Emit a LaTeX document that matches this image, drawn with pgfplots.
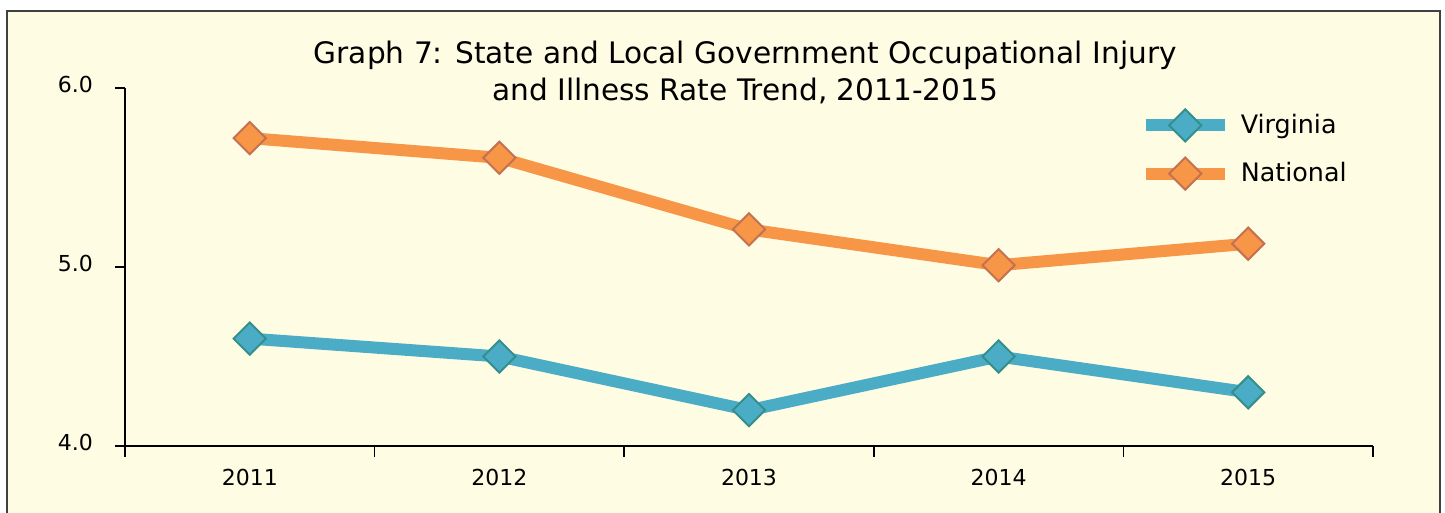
\documentclass[border=0pt]{standalone}
\usepackage{fontspec}
\setmainfont{DejaVu Sans}
\usepackage{pgfplots}
\pgfplotsset{compat=1.18}

\definecolor{bgyellow}{RGB}{254,252,227}
\definecolor{frame}{RGB}{64,64,64}
\definecolor{vaBlue}{RGB}{75,172,198}
\definecolor{vaEdge}{RGB}{52,143,140}
\definecolor{natOrange}{RGB}{247,150,70}
\definecolor{natEdge}{RGB}{196,112,82}

\begin{document}
\begin{tikzpicture}
% page is 1445x513 px at 0.5pt per px
\useasboundingbox (0,0) rectangle (722.5pt,256.5pt);
\clip (0,0) rectangle (722.5pt,256.5pt);
\draw[frame, line width=0.9pt, fill=bgyellow] (3.5pt,-10pt) rectangle (720pt,251pt);

\begin{axis}[
    at={(62.5pt,33.5pt)}, anchor=south west,
    scale only axis,
    width=624pt, height=179pt,
    xmin=-0.5, xmax=4.5,
    ymin=4, ymax=6,
    axis lines=left,
    axis line style={black, line width=0.8pt, -},
    xtick={0,1,2,3,4},
    xticklabels={2011,2012,2013,2014,2015},
    major x tick style={draw=none},
    minor xtick={-0.5,0.5,1.5,2.5,3.5,4.5},
    minor tick length=5.5pt,
    ytick={4,5,6},
    yticklabels={4.0,5.0,6.0},
    major tick length=5pt,
    tick align=outside,
    tick style={black, line width=0.8pt},
    every minor tick/.append style={black, line width=0.8pt},
    /pgf/number format/assume math mode=true,
    ticklabel style={font=\fontsize{11}{12}\selectfont},
    xticklabel style={yshift=-3pt},
    yticklabel style={xshift=-7.5pt, yshift=2pt},
    title={Graph 7: State and Local Government Occupational Injury\\and Illness Rate Trend, 2011-2015},
    title style={at={(0.497,1.01)}, anchor=center, align=center,
                 font=\fontsize{14.8}{18.7}\selectfont},
    legend style={at={(0.808,0.953)}, anchor=north west, draw=none, fill=none,
                  font=\fontsize{12.7}{15}\selectfont, row sep=8pt,
                  nodes={inner xsep=5pt}},
    legend cell align=left,
    legend image code/.code={
        \draw[mark repeat=2, mark phase=2]
            plot coordinates {(0pt,0pt) (19.75pt,0pt) (39.5pt,0pt)};
    },
    clip=false,
]
\addplot[vaBlue, line width=6pt, mark=square*,
    mark options={rotate=45, mark size=5.7pt, fill=vaBlue, draw=vaEdge, line width=1pt}]
    coordinates {(0,4.6) (1,4.5) (2,4.2) (3,4.5) (4,4.3)};
\addlegendentry{Virginia}
\addplot[natOrange, line width=6pt, mark=square*,
    mark options={rotate=45, mark size=5.7pt, fill=natOrange, draw=natEdge, line width=1pt}]
    coordinates {(0,5.72) (1,5.61) (2,5.21) (3,5.01) (4,5.13)};
\addlegendentry{National}
\end{axis}
\end{tikzpicture}
\end{document}
